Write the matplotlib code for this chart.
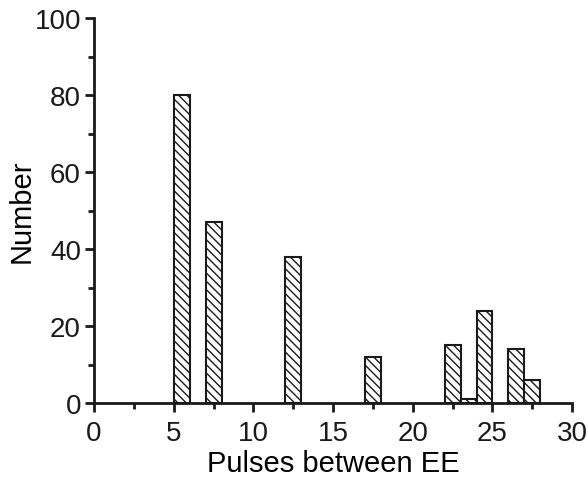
import matplotlib.pyplot as plt
from matplotlib.ticker import MultipleLocator

plt.rcParams['font.family'] = ['Liberation Sans', 'DejaVu Sans']
plt.rcParams['hatch.linewidth'] = 1.0

# left edges of the histogram bins and their counts
pulses = [5, 7, 12, 17, 22, 23, 24, 26, 27]
counts = [80, 47, 38, 12, 15, 1, 24, 14, 6]

fig = plt.figure(figsize=(5.88, 4.81), dpi=100)
ax = fig.add_axes([0.160, 0.160, 0.813, 0.8005])

ax.bar(pulses, counts, width=1.0, align='edge', color='white',
       edgecolor='#1a1a1a', linewidth=1.5, hatch='\\\\\\\\')

ax.set_xlim(0, 30)
ax.set_ylim(0, 100)
ax.xaxis.set_major_locator(MultipleLocator(5))
ax.xaxis.set_minor_locator(MultipleLocator(2.5))
ax.yaxis.set_major_locator(MultipleLocator(20))
ax.yaxis.set_minor_locator(MultipleLocator(10))

for side in ['top', 'right']:
    ax.spines[side].set_visible(False)
for side in ['left', 'bottom']:
    ax.spines[side].set_linewidth(2)
    ax.spines[side].set_color('#1a1a1a')

ax.tick_params(which='major', direction='out', length=6.5, width=2, labelsize=20,
               colors='#1a1a1a', pad=3)
ax.tick_params(axis='x', which='major', pad=6)
ax.tick_params(which='minor', direction='out', length=4, width=2, colors='#1a1a1a')

ax.set_xlabel('Pulses between EE', fontsize=21, labelpad=2)
ax.set_ylabel('Number', fontsize=21, labelpad=-1)

fig.savefig('out.png', dpi=100)
